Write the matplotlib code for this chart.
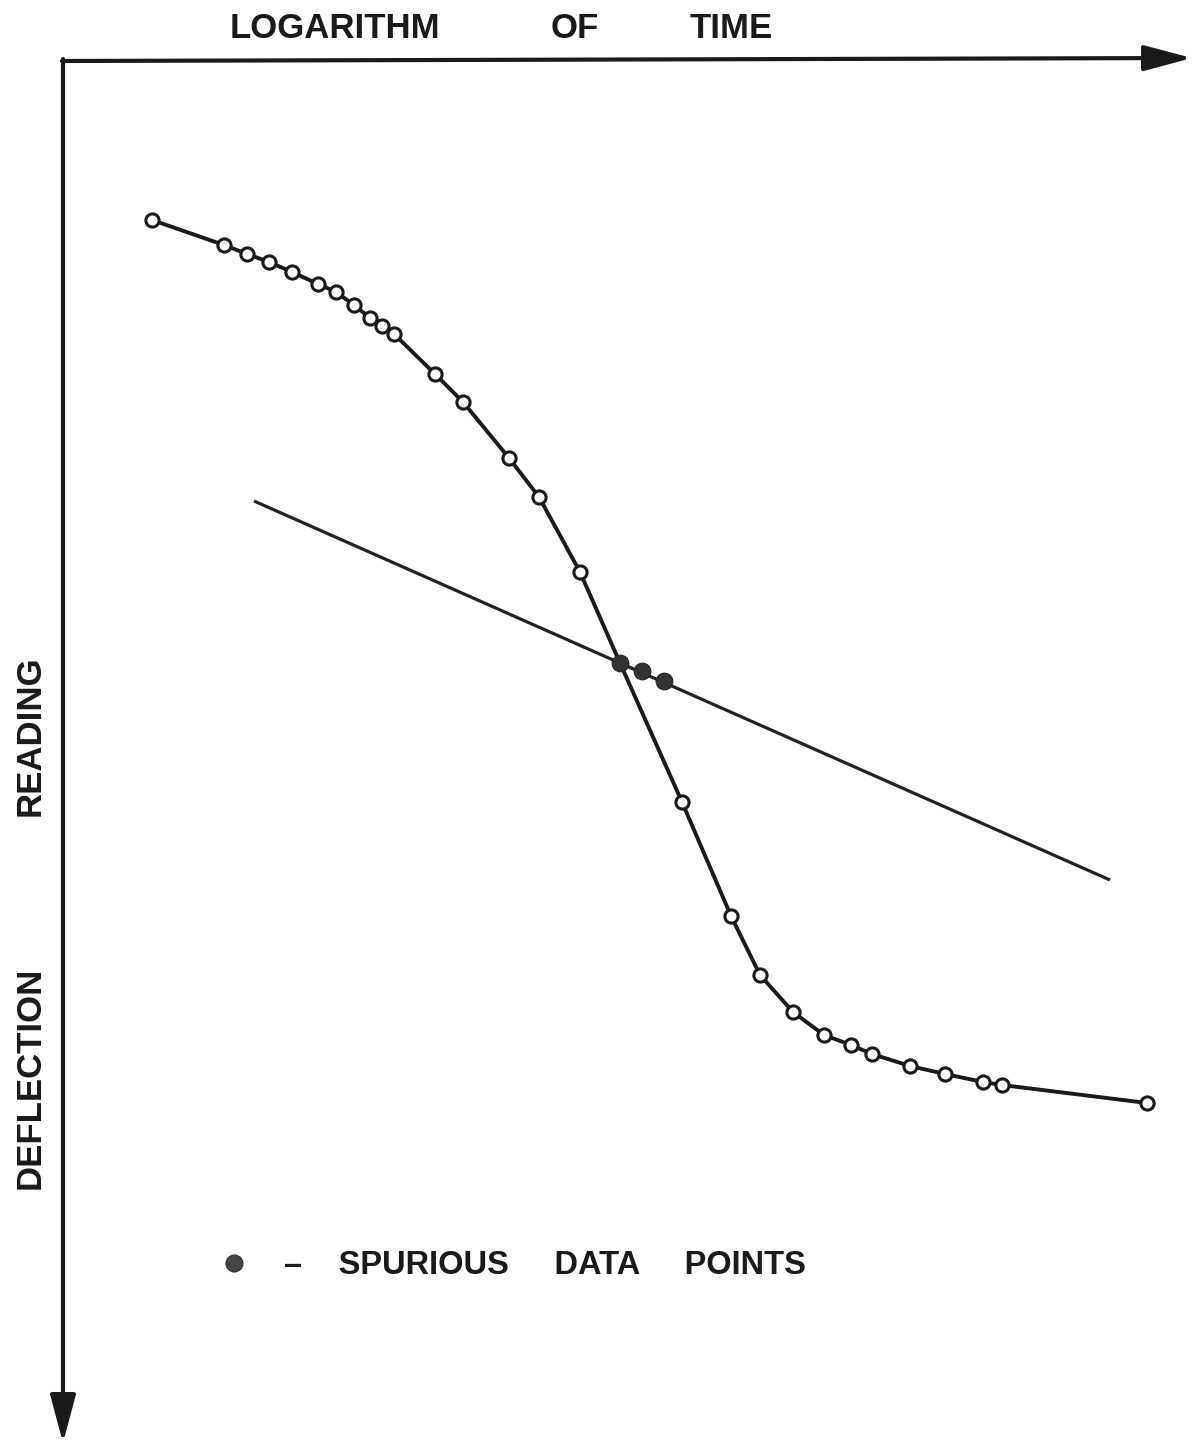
import matplotlib
matplotlib.use("Agg")
import matplotlib.pyplot as plt
from matplotlib.lines import Line2D

# ---- data (arbitrary units: log time increasing right, deflection increasing downward)
curve_x = [152, 224, 247, 269, 292, 318, 336, 354, 370, 382, 394, 435, 463, 509, 539, 580,
           620, 682, 731, 760, 793, 824, 851, 872, 910, 945, 983, 1002, 1147]
curve_y = [220, 245, 254, 262, 272, 284, 292, 305, 318, 326, 334, 374, 402, 458, 497, 572,
           663, 802, 916, 975, 1012, 1035, 1045, 1054, 1066, 1074, 1082, 1085, 1103]
open_x = curve_x[:16] + curve_x[17:]
open_y = curve_y[:16] + curve_y[17:]
spurious_x = [620, 642, 664]
spurious_y = [663, 671, 681]
line_x = [254, 1110]
line_y = [501, 880]

x_title_words = ["LOGARITHM", "OF", "TIME"]
y_title_words = ["DEFLECTION", "READING"]
legend_label = "\u2013    SPURIOUS     DATA     POINTS"

FONT = ["Liberation Sans", "DejaVu Sans"]
INK = "#1a1a1a"

fig = plt.figure(figsize=(11.96, 14.43), dpi=100)
ax = fig.add_axes([0, 0, 1, 1])
ax.set_xlim(0, 1196)
ax.set_ylim(1443, 0)
ax.axis("off")

# axes arrows
arrow_style = "-|>,head_length=1.05,head_width=0.28"
ax.annotate("", xy=(1192, 58), xytext=(62, 61),
            arrowprops=dict(arrowstyle=arrow_style, lw=3, color=INK,
                            mutation_scale=28, shrinkA=0, shrinkB=0))
ax.annotate("", xy=(63, 1443), xytext=(63, 59),
            arrowprops=dict(arrowstyle=arrow_style, lw=3, color=INK,
                            mutation_scale=28, shrinkA=0, shrinkB=0))

# straight line
ax.plot(line_x, line_y, color="#222222", lw=2.3, solid_capstyle="butt", zorder=2)
# curve
ax.plot(curve_x, curve_y, color=INK, lw=2.8, zorder=3)
ax.plot(open_x, open_y, linestyle="none", marker="o", markersize=9.5,
        markerfacecolor="white", markeredgecolor=INK, markeredgewidth=2.2, zorder=4)
ax.plot(spurious_x, spurious_y, linestyle="none", marker="o", markersize=12,
        markerfacecolor="#333333", markeredgecolor="#222222", markeredgewidth=0.8, zorder=5)

# titles
for word, xc in zip(x_title_words, [335, 575, 731]):
    ax.text(xc, 28, word, ha="center", va="center", fontsize=25, fontweight="bold",
            family=FONT, color=INK)
for word, yc in zip(y_title_words, [1078, 736]):
    ax.text(30, yc, word, ha="center", va="center", rotation=90, fontsize=25,
            fontweight="bold", family=FONT, color=INK)

# legend
handle = Line2D([], [], linestyle="none", marker="o", markersize=12,
                markerfacecolor="#444444", markeredgecolor="#333333")
leg = ax.legend([handle], [legend_label], loc="center left",
                bbox_to_anchor=(180 / 1196, 1 - 1266 / 1443), frameon=False,
                handletextpad=0.8, handlelength=1.5,
                prop=dict(family=FONT, weight="bold", size=23.5))
for t in leg.get_texts():
    t.set_color(INK)

fig.savefig("out.png", dpi=100)
